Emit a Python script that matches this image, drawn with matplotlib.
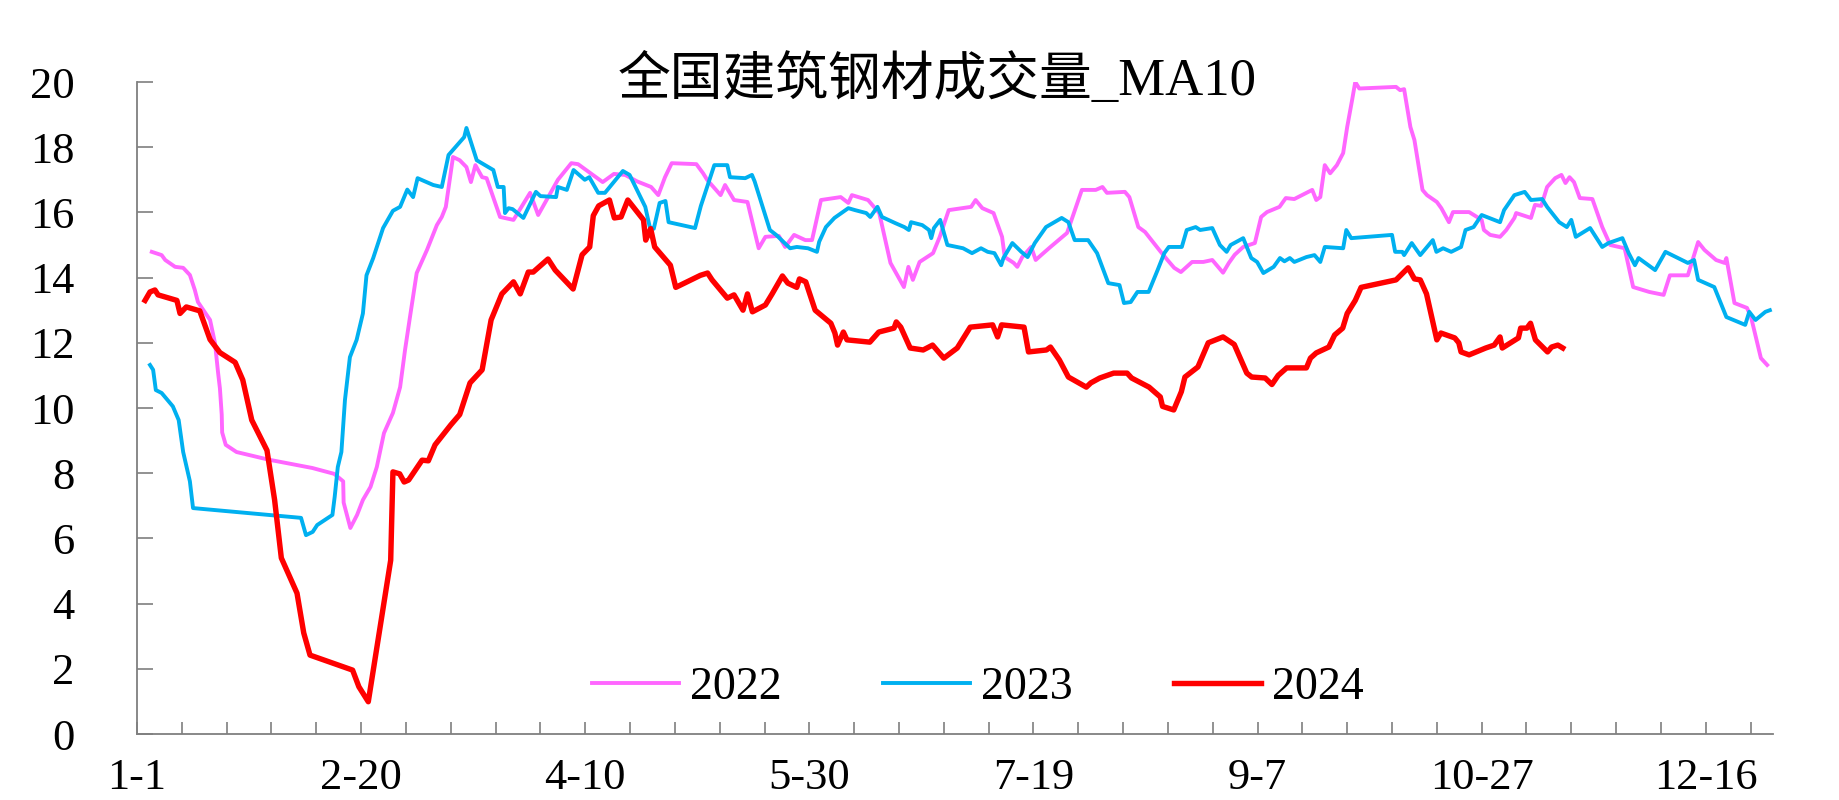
import matplotlib
matplotlib.use("Agg")
import matplotlib.pyplot as plt
from matplotlib.ticker import FixedLocator

# ---------------- data (x = day of year) ----------------
days_2022 = [4.3, 6.5, 7.3, 9.5, 11.3, 12.8, 13.9, 14.6, 17.3, 18.4, 19.1, 19.5, 19.9, 20.0, 20.8,
             23.2, 30.2, 40.1, 45.0, 47.0, 47.1, 48.6, 50.1, 51.4, 53.1, 54.5, 56.1, 58.1, 59.7,
             60.8, 61.9, 63.4, 65.7, 67.9, 69.0, 69.9, 71.5, 73.0, 74.5, 75.5, 76.5, 78.0, 79.0,
             82.0, 85.0, 88.7, 90.5, 94.9, 97.9, 99.4, 104.9, 107.4, 109.9, 112.6, 115.7, 117.3,
             118.8, 120.3, 125.8, 127.3, 128.2, 131.2, 132.2, 134.2, 137.2, 139.7, 141.2, 144.2,
             145.6, 147.6, 150.1, 151.6, 153.6, 158.0, 159.7, 160.5, 164.1, 166.6, 169.1, 172.1,
             173.1, 174.1, 175.6, 178.6, 180.1, 182.1, 187.1, 188.1, 189.6, 192.1, 194.0, 194.6,
             196.6, 197.4, 198.5, 200.5, 201.5, 202.8, 204.8, 208.5, 211.8, 214.9, 216.4, 217.4,
             221.4, 222.4, 224.4, 225.9, 229.4, 230.9, 232.4, 233.9, 236.4, 238.9, 240.9, 243.3,
             244.6, 245.9, 247.8, 250.4, 251.8, 253.1, 255.9, 257.3, 259.2, 263.2, 264.1, 265.0,
             266.0, 267.2, 268.7, 270.1, 271.0, 272.1, 272.8, 273.7, 281.9, 282.8, 283.7, 285.1,
             286.0, 287.8, 288.8, 291.0, 292.0, 293.7, 294.6, 298.2, 301.0, 301.5, 302.9, 305.1,
             306.5, 308.3, 308.7, 312.0, 312.9, 314.3, 315.6, 317.4, 318.8, 319.7, 320.6, 321.6,
             322.9, 325.7, 327.1, 327.9, 329.7, 332.9, 334.8, 338.4, 341.6, 343.0, 347.0, 349.3,
             350.7, 353.3, 355.2, 355.6, 357.4, 360.2, 361.1, 363.3, 364.7]
vals_2022 = [14.79, 14.69, 14.54, 14.33, 14.30, 14.08, 13.62, 13.25, 12.70, 11.99, 11.07, 10.6, 9.8, 9.25, 8.87,
             8.65, 8.42, 8.16, 7.98, 7.75, 7.10, 6.32, 6.72, 7.18, 7.58, 8.19, 9.23, 9.85, 10.64,
             11.78, 12.79, 14.14, 14.85, 15.61, 15.86, 16.17, 17.70, 17.60, 17.39, 16.93, 17.45, 17.08, 17.05,
             15.86, 15.77, 16.60, 15.92, 17.00, 17.51, 17.48, 16.93, 17.18, 17.15, 16.95, 16.78, 16.53,
             17.08, 17.51, 17.48, 17.20, 17.00, 16.53, 16.84, 16.38, 16.32, 14.90, 15.25, 15.28,
             14.94, 15.31, 15.15, 15.15, 16.38, 16.47, 16.29, 16.53, 16.38, 15.98, 14.45, 13.71,
             14.33, 13.93, 14.48, 14.75, 15.25, 16.07, 16.17, 16.38, 16.13, 15.98, 15.25, 14.63,
             14.45, 14.33, 14.63, 14.94, 14.54, 14.70, 14.94, 15.37, 16.69, 16.69, 16.78, 16.60,
             16.63, 16.47, 15.55, 15.40, 14.79, 14.54, 14.30, 14.17, 14.48, 14.48, 14.54, 14.15,
             14.45, 14.70, 14.94, 15.06, 15.86, 16.01, 16.17, 16.44, 16.41, 16.69, 16.38, 16.47,
             17.45, 17.20, 17.45, 17.82, 18.62, 19.45, 20.00, 19.80, 19.85, 19.75, 19.78, 18.62,
             18.22, 16.69, 16.53, 16.32, 16.13, 15.70, 16.01, 16.01, 15.77, 15.46, 15.31, 15.25,
             15.46, 15.83, 15.98, 15.83, 16.23, 16.20, 16.78, 17.05, 17.15, 16.90, 17.08, 16.93,
             16.44, 16.41, 15.86, 15.55, 15.00, 14.90, 13.71, 13.56, 13.47, 14.07, 14.07, 15.09,
             14.85, 14.54, 14.45, 14.60, 13.22, 13.07, 12.79, 11.53, 11.32]

days_2023 = [3.9, 4.6, 5.2, 6.5, 9.0, 10.3, 11.3, 12.8, 13.5, 37.6, 38.7, 40.2, 41.2, 44.6, 45.1,
             45.8, 46.6, 47.4, 48.5, 50.0, 51.4, 52.2, 53.7, 55.9, 58.1, 59.7, 61.3, 62.6, 63.6,
             67.1, 69.0, 70.5, 74.0, 74.5, 76.8, 80.5, 81.5, 82.8, 83.1, 83.9, 84.8, 87.2, 90.0,
             91.0, 94.5, 94.9, 96.9, 98.4, 100.9, 101.9, 103.9, 105.4, 109.4, 110.9, 114.4, 115.4,
             116.3, 117.6, 118.9, 119.6, 125.5, 126.8, 129.8, 132.7, 133.3, 136.7, 138.2, 138.8,
             142.2, 143.6, 146.7, 148.2, 150.7, 152.7, 153.2, 154.7, 156.6, 159.7, 161.2, 163.7,
             164.6, 166.2, 167.2, 170.2, 172.2, 173.2, 173.7, 176.2, 177.7, 178.2, 178.8, 180.2,
             181.8, 185.3, 187.3, 189.3, 190.8, 192.3, 193.8, 194.3, 196.3, 198.3, 199.7, 201.3,
             203.8, 207.3, 208.8, 210.2, 213.2, 215.2, 217.7, 220.2, 221.2, 222.7, 224.2, 226.7,
             228.7, 230.2, 231.2, 234.1, 235.2, 237.2, 238.2, 240.9, 242.6, 244.1, 245.0, 247.8,
             249.6, 250.9, 252.3, 254.6, 256.0, 257.0, 258.2, 259.2, 261.9, 263.7, 265.0, 266.0,
             270.1, 270.8, 271.9, 281.0, 281.7, 283.3, 283.7, 285.4, 287.3, 290.1, 290.9, 292.4,
             294.2, 296.4, 297.4, 299.2, 301.0, 305.1, 306.0, 308.3, 310.6, 312.0, 314.5, 315.6,
             318.3, 320.0, 321.0, 322.0, 325.2, 327.9, 329.3, 332.4, 333.8, 335.2, 336.0, 337.0,
             339.7, 342.0, 347.0, 348.4, 349.3, 352.9, 355.6, 359.8, 360.7, 362.1, 364.3, 365.3]
vals_2023 = [11.32, 11.17, 10.55, 10.46, 10.05, 9.63, 8.65, 7.75, 6.93, 6.63, 6.10, 6.20, 6.41, 6.72, 7.27,
             8.19, 8.65, 10.25, 11.56, 12.09, 12.90, 14.07, 14.60, 15.52, 16.05, 16.17, 16.70, 16.47, 17.05,
             16.84, 16.78, 17.76, 18.31, 18.59, 17.60, 17.30, 16.78, 16.78, 15.98, 16.13, 16.10, 15.83, 16.63,
             16.50, 16.47, 16.78, 16.69, 17.30, 17.00, 17.08, 16.60, 16.60, 17.27, 17.15, 16.17, 15.55,
             15.50, 16.29, 16.35, 15.70, 15.52, 16.20, 17.45, 17.45, 17.08, 17.05, 17.15, 16.95,
             15.46, 15.31, 14.90, 14.94, 14.90, 14.79, 15.10, 15.55, 15.83, 16.13, 16.07, 15.98,
             15.86, 16.17, 15.86, 15.67, 15.55, 15.46, 15.70, 15.61, 15.46, 15.21, 15.52, 15.77,
             15.00, 14.90, 14.75, 14.90, 14.79, 14.75, 14.38, 14.60, 15.06, 14.79, 14.63, 15.06,
             15.55, 15.83, 15.70, 15.15, 15.15, 14.75, 13.83, 13.77, 13.22, 13.25, 13.56, 13.56,
             14.23, 14.75, 14.94, 14.94, 15.46, 15.55, 15.46, 15.52, 15.00, 14.79, 15.00, 15.21,
             14.60, 14.48, 14.14, 14.33, 14.60, 14.50, 14.60, 14.48, 14.63, 14.69, 14.48, 14.94,
             14.90, 15.46, 15.21, 15.31, 14.79, 14.79, 14.69, 15.06, 14.69, 15.15, 14.79, 14.90,
             14.79, 14.94, 15.46, 15.55, 15.92, 15.70, 16.07, 16.53, 16.63, 16.38, 16.41, 16.17,
             15.70, 15.55, 15.77, 15.25, 15.52, 14.94, 15.06, 15.21, 14.75, 14.38, 14.60, 14.50,
             14.23, 14.79, 14.45, 14.54, 13.93, 13.71, 12.79, 12.55, 12.95, 12.70, 12.95, 13.00]

days_2024 = [2.8, 3.9, 5.0, 5.7, 9.9, 10.6, 12.0, 15.0, 17.3, 19.5, 22.9, 24.6, 26.6, 30.0, 31.7,
             33.2, 36.7, 38.2, 39.6, 49.1, 50.5, 52.6, 57.6, 58.1, 59.6, 60.6, 61.6, 64.6, 66.0,
             67.5, 71.0, 73.0, 75.3, 78.0, 80.0, 82.4, 85.0, 86.5, 88.3, 89.4, 92.7, 94.3, 98.3,
             100.3, 102.0, 102.8, 104.0, 106.4, 107.5, 109.0, 110.5, 114.0, 114.5, 115.6, 116.5,
             120.0, 121.2, 126.7, 128.3, 129.3, 131.2, 132.7, 134.2, 136.2, 137.2, 138.3, 141.2,
             142.7, 143.7, 145.0, 146.2, 148.2, 148.8, 150.2, 152.3, 155.8, 156.7, 157.3, 158.6,
             159.4, 164.5, 166.5, 169.9, 170.4, 171.4, 173.5, 176.4, 178.5, 181.0, 184.0, 186.9,
             191.9, 193.0, 193.9, 198.9, 199.9, 203.9, 204.8, 206.8, 208.8, 212.8, 213.8, 215.8,
             218.9, 221.9, 222.9, 226.8, 229.3, 229.8, 232.3, 234.0, 234.8, 237.7, 240.0, 243.3,
             245.8, 248.6, 249.7, 252.7, 254.2, 255.6, 257.5, 261.9, 262.8, 264.1, 266.9, 268.2,
             270.0, 271.0, 272.8, 274.1, 281.9, 284.6, 286.0, 287.3, 288.7, 290.0, 291.0, 291.9,
             295.0, 295.9, 296.4, 298.2, 301.9, 303.8, 305.1, 305.6, 309.2, 309.7, 311.1, 311.9,
             313.0, 315.7, 316.6, 318.0, 319.1]
vals_2024 = [13.30, 13.56, 13.62, 13.47, 13.30, 12.90, 13.10, 12.98, 12.10, 11.70, 11.40, 10.86, 9.63, 8.70, 7.18,
             5.40, 4.32, 3.10, 2.42, 1.96, 1.45, 0.99, 5.33, 8.04, 7.98, 7.73, 7.79, 8.40, 8.38,
             8.87, 9.48, 9.80, 10.77, 11.17, 12.70, 13.50, 13.87, 13.50, 14.17, 14.17, 14.57, 14.23, 13.65,
             14.70, 14.94, 15.90, 16.20, 16.38, 15.83, 15.86, 16.38, 15.77, 15.15, 15.50, 14.94,
             14.38, 13.70, 14.07, 14.14, 13.93, 13.62, 13.37, 13.47, 13.00, 13.50, 12.95, 13.16,
             13.50, 13.74, 14.05, 13.83, 13.70, 13.96, 13.87, 13.00, 12.60, 12.30, 11.93, 12.33,
             12.09, 12.02, 12.33, 12.45, 12.64, 12.48, 11.84, 11.78, 11.93, 11.53, 11.84, 12.48,
             12.55, 12.18, 12.55, 12.48, 11.72, 11.78, 11.87, 11.47, 10.95, 10.64, 10.77, 10.92,
             11.07, 11.07, 10.92, 10.64, 10.34, 10.05, 9.94, 10.50, 10.95, 11.26, 12.00, 12.18,
             11.95, 11.07, 10.95, 10.92, 10.72, 11.00, 11.23, 11.23, 11.53, 11.69, 11.87, 12.24,
             12.45, 12.90, 13.30, 13.70, 13.93, 14.30, 13.96, 13.93, 13.50, 12.70, 12.09, 12.30,
             12.15, 12.00, 11.72, 11.63, 11.84, 11.93, 12.18, 11.84, 12.15, 12.45, 12.45, 12.60,
             12.09, 11.72, 11.87, 11.93, 11.84]

tick_days = [1, 51, 101, 151, 201, 251, 301, 351]
tick_labels = ["1-1", "2-20", "4-10", "5-30", "7-19", "9-7", "10-27", "12-16"]
series_names = ["2022", "2023", "2024"]
title_text = "全国建筑钢材成交量_MA10"

# ---------------- figure ----------------
W, H = 1840, 800
fig = plt.figure(figsize=(W / 100, H / 100), dpi=100)
fig.patch.set_facecolor("white")
ax = fig.add_axes([137 / W, 66 / H, (1773 - 137) / W, (734 - 82) / H])

serif = ["Liberation Serif", "DejaVu Serif"]
ax.plot(days_2022, vals_2022, color="#FF66FF", lw=2.8, label=series_names[0], solid_joinstyle="round")
ax.plot(days_2023, vals_2023, color="#00B0F0", lw=2.8, label=series_names[1], solid_joinstyle="round")
ax.plot(days_2024, vals_2024, color="#FF0000", lw=3.9, label=series_names[2], solid_joinstyle="round")

ax.set_xlim(1, 366)
ax.set_ylim(0, 20)
for s in ["top", "right"]:
    ax.spines[s].set_visible(False)
for s in ["left", "bottom"]:
    ax.spines[s].set_color("#7f7f7f")
    ax.spines[s].set_linewidth(1.3)

ax.set_xticks(tick_days)
ax.set_xticklabels(tick_labels, fontfamily=serif, fontsize=32)
ax.xaxis.set_minor_locator(FixedLocator([d for d in range(1, 366, 10) if d not in tick_days]))
ax.tick_params(axis="x", which="both", direction="in", length=9, width=1.2, color="#7f7f7f", pad=17)

ax.set_yticks(range(0, 21, 2))
ax.set_yticklabels([str(v) for v in range(0, 21, 2)], fontfamily=serif, fontsize=32)
ax.tick_params(axis="y", which="both", direction="in", length=11.5, width=1.2, color="#7f7f7f", pad=45)

fig.text(937 / W, 1 - 80 / H, title_text, ha="center", va="center", fontsize=38,
         family=["Liberation Serif", "Noto Sans CJK SC"])

leg = fig.legend(loc="center", bbox_to_anchor=(978 / W, 1 - 688 / H), ncol=3, frameon=False,
                 prop={"family": serif, "size": 33}, handlelength=1.9, handletextpad=0.25,
                 columnspacing=2.2)

fig.savefig("out.png", dpi=100, facecolor="white")
